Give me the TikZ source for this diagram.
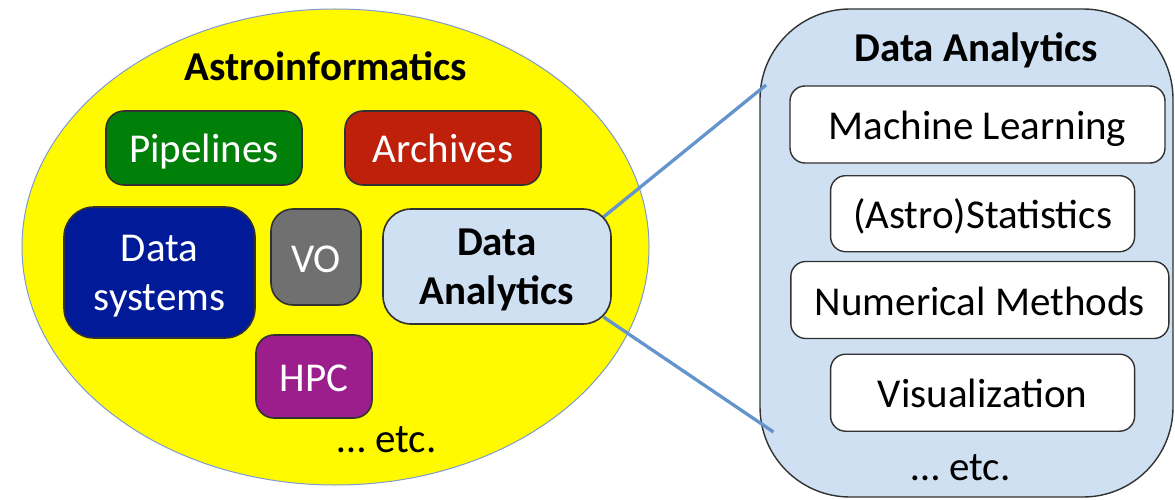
\documentclass[tikz,border=0pt]{standalone}
\usepackage{fontspec}
\setmainfont{Carlito}
\usetikzlibrary{shapes.geometric,calc}

\definecolor{sunyellow}{RGB}{255,250,0}
\definecolor{rimblue}{RGB}{125,155,210}
\definecolor{pipegreen}{RGB}{0,128,8}
\definecolor{archred}{RGB}{190,32,10}
\definecolor{sysblue}{RGB}{0,26,152}
\definecolor{vogray}{RGB}{112,112,112}
\definecolor{hpcpurple}{RGB}{155,30,140}
\definecolor{palblue}{RGB}{207,224,242}
\definecolor{linkblue}{RGB}{100,148,204}
\definecolor{edgegray}{RGB}{50,50,50}

\tikzset{
  bigfont/.style={font=\fontsize{41}{49}\selectfont},
  titlefont/.style={font=\bfseries\fontsize{41}{49}\selectfont},
  oneline/.style={text height=30pt, text depth=0pt},
  twoline/.style={align=center, text depth=0pt},
  tile/.style={draw=edgegray, line width=1.6pt, inner sep=0pt,
    bigfont, text=white},
  subtile/.style={draw=edgegray, line width=1.4pt, fill=white,
    rounded corners=15pt, inner sep=0pt, bigfont, text=black, oneline},
  link/.style={draw=linkblue, line width=3.3pt},
}

\begin{document}
\begin{tikzpicture}[x=1pt,y=-1pt]
\useasboundingbox (0,0) rectangle (1175,500);

% outer field: astroinformatics
\node[ellipse, draw=rimblue, line width=1pt, fill=sunyellow,
      minimum width=627, minimum height=476, inner sep=0pt] (astro) at (335.5,247) {};
\node[titlefont, anchor=base] (astrotitle) at (326,81) {Astroinformatics};

% detail panel: data analytics
\node[draw=edgegray, line width=1.4pt, fill=palblue, rounded corners=90pt,
      minimum width=413, minimum height=488, inner sep=0pt] (panel) at (966.5,253) {};
\node[titlefont, anchor=base] (paneltitle) at (976,62) {Data Analytics};

% links from the small box to the panel
\coordinate (upperend) at (766,85);
\coordinate (lowerend) at (773.5,432);
\coordinate (dane) at (603.5,217);
\coordinate (dase) at (603.5,317);
\draw[link] (dane) -- (upperend);
\draw[link] (dase) -- (lowerend);

% tiles inside the ellipse
\node[tile, oneline, fill=pipegreen, rounded corners=18pt,
      minimum width=196, minimum height=74] (pipe) at (204,148) {Pipelines};
\node[tile, oneline, fill=archred, rounded corners=18pt,
      minimum width=196, minimum height=74] (arch) at (443,148) {Archives};
\node[tile, twoline, fill=sysblue, rounded corners=30pt,
      minimum width=191, minimum height=131] (sys) at (159.5,272.5) {Data\\systems};
\node[tile, oneline, fill=vogray, rounded corners=22pt,
      minimum width=90, minimum height=96] (vo) at (316,257) {VO};
\node[tile, twoline, fill=palblue, text=black, font=\bfseries\fontsize{41}{49}\selectfont,
      rounded corners=28pt,
      minimum width=228, minimum height=115] (da) at (497,266.5) {Data\\Analytics};
\node[tile, oneline, fill=hpcpurple, rounded corners=18pt,
      minimum width=116, minimum height=83] (hpc) at (314,376.5) {HPC};
\node[bigfont, anchor=base] (astroetc) at (387,452) {… etc.};

% items inside the panel
\node[subtile, minimum width=375, minimum height=77] (ml) at (977.5,124.5) {Machine Learning};
\node[subtile, minimum width=304, minimum height=76] (stat) at (982.6,213.7) {(Astro)Statistics};
\node[subtile, minimum width=378, minimum height=77] (num) at (979.8,300) {Numerical Methods};
\node[subtile, minimum width=304, minimum height=77] (vis) at (982.6,392.7) {Visualization};
\node[bigfont, anchor=base] (paneletc) at (961,480) {… etc.};
\end{tikzpicture}
\end{document}
